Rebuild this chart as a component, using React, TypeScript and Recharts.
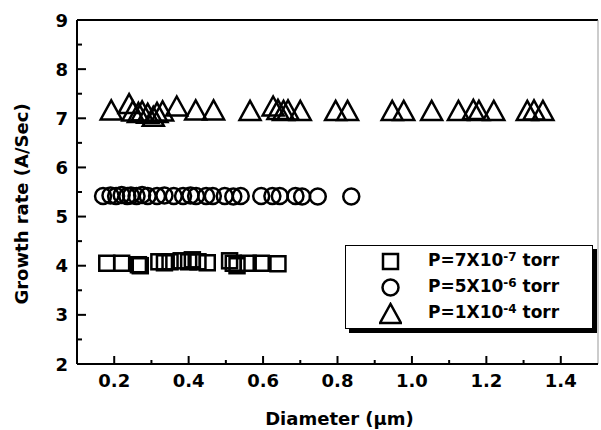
import React from 'react';
import { ScatterChart, Scatter, XAxis, YAxis, ReferenceLine, Legend } from 'recharts';

// ---- data ----
const squareDiameter = [0.18, 0.22, 0.265, 0.27, 0.32, 0.335, 0.35, 0.38, 0.4, 0.41, 0.425, 0.45, 0.51, 0.52, 0.53, 0.56, 0.595, 0.64];
const squareRate = [4.05, 4.05, 4.02, 4.0, 4.08, 4.06, 4.08, 4.1, 4.08, 4.12, 4.08, 4.06, 4.1, 4.05, 4.0, 4.05, 4.05, 4.04];

const circleDiameter = [0.17, 0.19, 0.205, 0.22, 0.235, 0.245, 0.26, 0.275, 0.29, 0.315, 0.335, 0.36, 0.385, 0.405, 0.42, 0.447, 0.465, 0.497, 0.52, 0.54, 0.595, 0.625, 0.645, 0.687, 0.705, 0.747, 0.837];
const circleRate = [5.42, 5.43, 5.42, 5.44, 5.42, 5.43, 5.42, 5.44, 5.42, 5.42, 5.43, 5.42, 5.42, 5.43, 5.42, 5.42, 5.42, 5.42, 5.41, 5.42, 5.42, 5.42, 5.42, 5.42, 5.41, 5.41, 5.41];

const triangleDiameter = [0.192, 0.24, 0.25, 0.265, 0.275, 0.29, 0.305, 0.315, 0.33, 0.368, 0.419, 0.467, 0.565, 0.627, 0.64, 0.655, 0.667, 0.7, 0.795, 0.827, 0.947, 0.978, 1.053, 1.125, 1.165, 1.18, 1.22, 1.31, 1.328, 1.352];
const triangleRate = [7.17, 7.3, 7.15, 7.12, 7.15, 7.1, 7.04, 7.12, 7.15, 7.25, 7.17, 7.17, 7.16, 7.25, 7.18, 7.16, 7.17, 7.16, 7.16, 7.16, 7.16, 7.16, 7.16, 7.16, 7.18, 7.16, 7.16, 7.16, 7.17, 7.16];

const legendBase = ['P=7X10', 'P=5X10', 'P=1X10'];
const legendExp = ['-7', '-6', '-4'];
const legendUnit = ' torr';

const xMajor = [0.2, 0.4, 0.6, 0.8, 1.0, 1.2, 1.4];
const xMinor = [0.3, 0.5, 0.7, 0.9, 1.1, 1.3];
const yMajor = [2, 3, 4, 5, 6, 7, 8, 9];
const yMinor = [2.5, 3.5, 4.5, 5.5, 6.5, 7.5, 8.5];

const xTitle = 'Diameter (\u03bcm)';
const yTitle = 'Growth rate (A/Sec)';

const FONT = '"DejaVu Sans", sans-serif';

const toPoints = (xs: number[], ys: number[]) => xs.map((x, i) => ({ x, y: ys[i] }));
const squares = toPoints(squareDiameter, squareRate);
const circles = toPoints(circleDiameter, circleRate);
const triangles = toPoints(triangleDiameter, triangleRate);

const xTicks = [...xMajor, ...xMinor].sort((a, b) => a - b);
const yTicks = [...yMajor, ...yMinor].sort((a, b) => a - b);
const isIn = (arr: number[], v: number) => arr.some((a) => Math.abs(a - v) < 1e-6);

// ---- marker shapes ----
const SquareShape = (p: any) => (
  <rect x={p.cx - 7.5} y={p.cy - 7.5} width={15} height={15} fill="none" stroke="#000" strokeWidth={2.5} />
);
const CircleShape = (p: any) => (
  <circle cx={p.cx} cy={p.cy} r={8} fill="none" stroke="#000" strokeWidth={2.5} />
);
const TriangleShape = (p: any) => {
  const w = 21, h = 19;
  const pts = `${p.cx},${p.cy - h / 2} ${p.cx - w / 2},${p.cy + h / 2} ${p.cx + w / 2},${p.cy + h / 2}`;
  return <polygon points={pts} fill="none" stroke="#000" strokeWidth={2.5} strokeLinejoin="miter" />;
};

// ---- ticks ----
const XTick = (p: any) => {
  const v = p.payload.value;
  const major = isIn(xMajor, v);
  return (
    <g>
      <line x1={p.x} x2={p.x} y1={p.y} y2={p.y - (major ? 8 : 4)} stroke="#000" strokeWidth={2} />
      {major && (
        <text x={p.x} y={p.y + 23} textAnchor="middle" fontFamily={FONT} fontWeight="bold" fontSize={18} fill="#000">
          {v.toFixed(1)}
        </text>
      )}
    </g>
  );
};
const YTick = (p: any) => {
  const v = p.payload.value;
  const major = isIn(yMajor, v);
  return (
    <g>
      <line x1={p.x} x2={p.x + (major ? 9 : 5)} y1={p.y} y2={p.y} stroke="#000" strokeWidth={2} />
      {major && (
        <text x={p.x - 9} y={p.y + 6.5} textAnchor="end" fontFamily={FONT} fontWeight="bold" fontSize={18} fill="#000">
          {String(v)}
        </text>
      )}
    </g>
  );
};

const XTitle = (p: any) => {
  const vb = p.viewBox || { x: 77, y: 364, width: 521, height: 66 };
  return (
    <text x={vb.x + vb.width / 2 + 2} y={vb.y + 61} textAnchor="middle" fontFamily={FONT} fontWeight="bold" fontSize={18} fill="#000">
      {xTitle}
    </text>
  );
};
const YTitle = (p: any) => {
  const vb = p.viewBox || { x: 0, y: 20, width: 77, height: 344 };
  const cx = vb.x + 21;
  const cy = vb.y + vb.height / 2 + 12;
  return (
    <text x={cx} y={cy} transform={`rotate(-90, ${cx}, ${cy})`} textAnchor="middle" dominantBaseline="central" fontFamily={FONT} fontWeight="bold" fontSize={18} fill="#000">
      {yTitle}
    </text>
  );
};

const markerFor = (i: number) => {
  if (i === 0) return <rect x={4} y={4} width={15} height={15} fill="none" stroke="#000" strokeWidth={2.5} />;
  if (i === 1) return <circle cx={11.5} cy={11.5} r={8} fill="none" stroke="#000" strokeWidth={2.5} />;
  return <polygon points="11.5,2 1,21 22,21" fill="none" stroke="#000" strokeWidth={2.5} />;
};

const LegendBox = () => (
  <div
    style={{
      position: 'relative',
      width: 248,
      height: 84,
      boxSizing: 'border-box',
      border: '1.5px solid #000',
      boxShadow: '4px 4px 0 #000',
      background: '#fff',
      fontFamily: FONT,
      fontWeight: 'bold',
      fontSize: 17,
      color: '#000',
    }}
  >
    {legendBase.map((b, i) => (
      <div key={i} style={{ position: 'absolute', left: 0, top: 2 + i * 26, height: 26, width: 246, whiteSpace: 'nowrap' }}>
        <svg width={23} height={23} style={{ position: 'absolute', left: 33, top: 1.5 }}>
          {markerFor(i)}
        </svg>
        <span style={{ position: 'absolute', left: 82, top: 2, lineHeight: '21px' }}>
          {b}
          <sup style={{ fontSize: 12, verticalAlign: 'top', position: 'relative', top: -3 }}>{legendExp[i]}</sup>
          {legendUnit}
        </span>
      </div>
    ))}
  </div>
);

export default function App() {
  return (
    <div style={{ position: 'absolute', left: 0, top: 0, background: '#fff' }}>
      <ScatterChart width={601} height={430} margin={{ top: 20, right: 3, bottom: 0, left: 0 }}>
        <XAxis
          type="number"
          dataKey="x"
          domain={[0.1, 1.5]}
          ticks={xTicks}
          interval={0}
          allowDataOverflow
          height={66}
          tickSize={0}
          tickMargin={0}
          tickLine={false}
          axisLine={{ stroke: '#000', strokeWidth: 2 }}
          tick={<XTick />}
          label={<XTitle />}
        />
        <YAxis
          type="number"
          dataKey="y"
          domain={[2, 9]}
          ticks={yTicks}
          interval={0}
          allowDataOverflow
          width={77}
          tickSize={0}
          tickMargin={0}
          tickLine={false}
          axisLine={{ stroke: '#000', strokeWidth: 2 }}
          tick={<YTick />}
          label={<YTitle />}
        />
        <ReferenceLine y={9} stroke="#000" strokeWidth={2} />
        <ReferenceLine x={1.5} stroke="#999" strokeWidth={1} />
        <Scatter name="s7" data={squares} shape={<SquareShape />} isAnimationActive={false} />
        <Scatter name="s6" data={circles} shape={<CircleShape />} isAnimationActive={false} />
        <Scatter name="s4" data={triangles} shape={<TriangleShape />} isAnimationActive={false} />
        <Legend
          layout="horizontal"
          verticalAlign="middle"
          align="center"
          content={() => <LegendBox />}
          wrapperStyle={{ left: 345, top: 245, width: 248, height: 84 }}
        />
      </ScatterChart>
    </div>
  );
}
